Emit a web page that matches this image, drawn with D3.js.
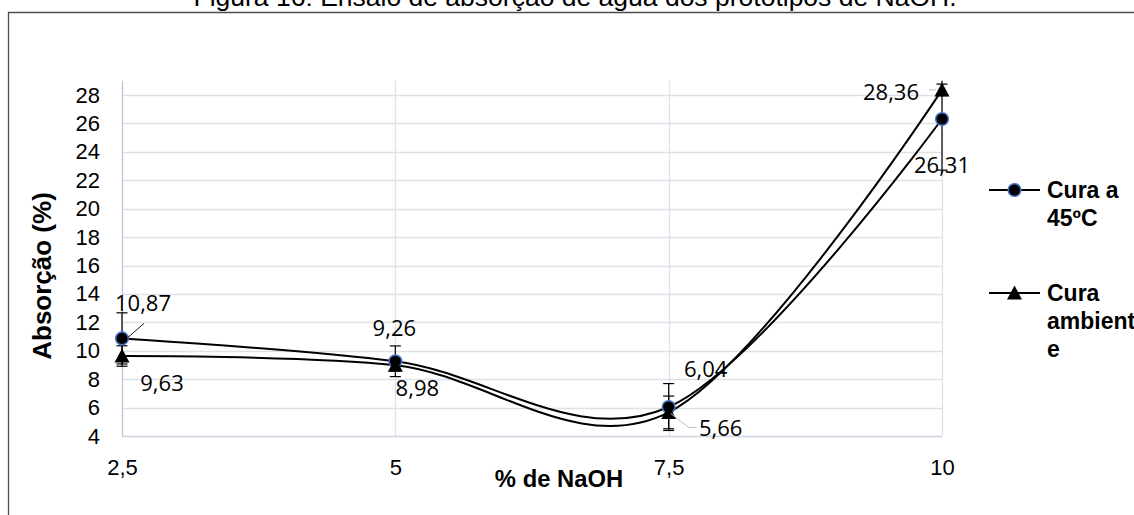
<!DOCTYPE html>
<html>
<head>
<meta charset="utf-8">
<script src="https://cdn.jsdelivr.net/npm/d3@7"></script>
<style>
  html, body { margin: 0; padding: 0; background: #fff; }
  svg { display: block; }
</style>
</head>
<body>
<svg id="chart" width="1134" height="515"></svg>
<script>
// Water absorption of NaOH prototypes, two curing conditions
const naohPercent = [2.5, 5, 7.5, 10];
const xTickLabels = ["2,5", "5", "7,5", "10"];
const yTickValues = [4, 6, 8, 10, 12, 14, 16, 18, 20, 22, 24, 26, 28];

const cura45 = [10.87, 9.26, 6.04, 26.31];
const cura45Err = [1.8, 1.08, 1.65, 3.6];
const curaAmbiente = [9.63, 8.98, 5.66, 28.36];
const curaAmbienteErr = [0.72, 0.4, 1.15, 0.4];

const legendLines45 = ["Cura a", "45ºC"];
const legendLinesAmb = ["Cura", "ambient", "e"];

const titleText = "Figura 16: Ensaio de absorção de água dos protótipos de NaOH.";
const yAxisTitle = "Absorção (%)";
const xAxisTitle = "% de NaOH";

// label placement (offset of label centre from its point)
const labelOffsets45 = [[21, -35], [-1, -33], [37, -38], [0, 46]];
const labelOffsetsAmb = [[40, 27], [22, 23], [52, 16], [-51, 2]];

const svg = d3.select("#chart");
const plot = { left: 122, right: 942, top: 80.8, bottom: 436 };

const x = d3.scaleLinear().domain([2.5, 10]).range([plot.left, plot.right]);
const y = d3.scaleLinear().domain([4, 29]).range([plot.bottom, plot.top]);

const fmt = v => d3.format(".2f")(v).replace(".", ",");

// chart frame
svg.append("path")
  .attr("d", `M8.5,${515} V12.5 H${1134}`)
  .attr("fill", "none")
  .attr("stroke", "#4d4d4d")
  .attr("stroke-width", 1.3);

// title (top is cut by the page edge)
svg.append("text")
  .attr("x", 575).attr("y", 6)
  .attr("text-anchor", "middle")
  .attr("font-family", "Liberation Sans, Arial, sans-serif")
  .attr("font-size", 26.5)
  .attr("fill", "#000")
  .text(titleText);

// gridlines
const grid = svg.append("g");
grid.selectAll("line.h").data(yTickValues).join("line")
  .attr("x1", plot.left).attr("x2", plot.right)
  .attr("y1", d => Math.round(y(d)) + 0.5).attr("y2", d => Math.round(y(d)) + 0.5)
  .attr("stroke", d => d === 4 ? "#ccd4e0" : "#dde2ea")
  .attr("stroke-width", 1.3);
grid.selectAll("line.v").data(naohPercent).join("line")
  .attr("x1", d => Math.round(x(d)) + 0.5).attr("x2", d => Math.round(x(d)) + 0.5)
  .attr("y1", plot.top).attr("y2", plot.bottom)
  .attr("stroke", (d, i) => i === 0 ? "#b9c7dc" : "#dde2ea")
  .attr("stroke-width", 1.3);

// axes labels via d3 axes
const yAxis = d3.axisLeft(y).tickValues(yTickValues).tickSize(0).tickPadding(22)
  .tickFormat(d => String(d));
const yg = svg.append("g").attr("transform", `translate(${plot.left},0)`).call(yAxis);
yg.select(".domain").remove();
yg.selectAll("text")
  .attr("font-family", "Liberation Sans, Arial, sans-serif")
  .attr("font-size", 22).attr("fill", "#000");

const xAxis = d3.axisBottom(x).tickValues(naohPercent).tickSize(0).tickPadding(23)
  .tickFormat((d, i) => xTickLabels[i]);
const xg = svg.append("g").attr("transform", `translate(0,${plot.bottom})`).call(xAxis);
xg.select(".domain").remove();
xg.selectAll("text")
  .attr("font-family", "Liberation Sans, Arial, sans-serif")
  .attr("font-size", 22).attr("fill", "#000");

// axis titles
svg.append("text")
  .attr("transform", "translate(51,276) rotate(-90)")
  .attr("text-anchor", "middle")
  .attr("font-family", "Liberation Sans, Arial, sans-serif")
  .attr("font-weight", "bold").attr("font-size", 26)
  .text(yAxisTitle);
svg.append("text")
  .attr("x", 559).attr("y", 487)
  .attr("text-anchor", "middle")
  .attr("font-family", "Liberation Sans, Arial, sans-serif")
  .attr("font-weight", "bold").attr("font-size", 23.8)
  .text(xAxisTitle);

// clip for error bars
svg.append("clipPath").attr("id", "plotClip")
  .append("rect").attr("x", 90).attr("y", plot.top)
  .attr("width", 880).attr("height", plot.bottom - plot.top + 30);

const series = [
  { values: cura45, err: cura45Err, marker: "circle", offsets: labelOffsets45 },
  { values: curaAmbiente, err: curaAmbienteErr, marker: "triangle", offsets: labelOffsetsAmb }
];

const line = d3.line()
  .x((d, i) => x(naohPercent[i]))
  .y(d => y(d))
  .curve(d3.curveCardinal.tension(0));

// smoothed lines
series.forEach(s => {
  svg.append("path")
    .attr("d", line(s.values))
    .attr("fill", "none")
    .attr("stroke", "#000")
    .attr("stroke-width", 2);
});

// error bars
const eb = svg.append("g").attr("clip-path", "url(#plotClip)")
  .attr("stroke", "#000").attr("stroke-width", 1.2);
series.forEach(s => {
  s.values.forEach((v, i) => {
    const cx = x(naohPercent[i]);
    const y1 = y(v + s.err[i]), y2 = y(v - s.err[i]);
    eb.append("line").attr("x1", cx).attr("x2", cx).attr("y1", y1).attr("y2", y2);
    eb.append("line").attr("x1", cx - 5.5).attr("x2", cx + 5.5).attr("y1", y1).attr("y2", y1);
    eb.append("line").attr("x1", cx - 5.5).attr("x2", cx + 5.5).attr("y1", y2).attr("y2", y2);
  });
});

// markers
function drawMarker(g, type, cx, cy) {
  if (type === "circle") {
    g.append("circle").attr("cx", cx).attr("cy", cy).attr("r", 6.3)
      .attr("fill", "#000").attr("stroke", "#4472c4").attr("stroke-width", 1.5);
  } else {
    g.append("path")
      .attr("d", `M${cx},${cy - 7.5} L${cx + 7.5},${cy + 6.5} L${cx - 7.5},${cy + 6.5} Z`)
      .attr("fill", "#000");
  }
}
const mk = svg.append("g");
series.forEach(s => {
  s.values.forEach((v, i) => drawMarker(mk, s.marker, x(naohPercent[i]), y(v)));
});

// leader lines for a few data labels
const leaders = svg.append("g").attr("fill", "none").attr("stroke-width", 1);
{
  const px = x(naohPercent[0]), py = y(cura45[0]);
  leaders.append("path").attr("stroke", "#1a1a1a")
    .attr("d", `M${px + 6},${py - 1} L${px + 22},${py - 15}`);
}
{
  const px = x(naohPercent[2]), py = y(curaAmbiente[2]);
  leaders.append("path").attr("stroke", "#bfbfbf")
    .attr("d", `M${px + 2},${py + 1} L${px + 20},${py + 15} L${px + 28},${py + 15}`);
}
{
  const px = x(naohPercent[3]), py = y(curaAmbiente[3]);
  leaders.append("path").attr("stroke", "#bfbfbf")
    .attr("d", `M${px - 13},${py} L${px - 6},${py}`);
}

// data labels
const lbl = svg.append("g")
  .attr("font-family", "Open Sans, Liberation Sans, sans-serif")
  .attr("font-size", 22).attr("fill", "#000")
  .attr("text-anchor", "middle");
series.forEach(s => {
  s.values.forEach((v, i) => {
    lbl.append("text")
      .attr("x", x(naohPercent[i]) + s.offsets[i][0])
      .attr("y", y(v) + s.offsets[i][1])
      .attr("dy", "0.36em")
      .text(fmt(v));
  });
});

// legend
const lg = svg.append("g")
  .attr("font-family", "Liberation Sans, Arial, sans-serif")
  .attr("font-weight", "bold").attr("font-size", 23);
[[legendLines45, "circle", 190], [legendLinesAmb, "triangle", 293]].forEach(([lines, type, ly]) => {
  lg.append("line").attr("x1", 989).attr("x2", 1040).attr("y1", ly).attr("y2", ly)
    .attr("stroke", "#000").attr("stroke-width", 2);
  drawMarker(lg, type, 1014.5, ly);
  lines.forEach((t, k) => {
    lg.append("text").attr("x", 1047).attr("y", ly + k * 28).attr("dy", "0.36em").text(t);
  });
});
</script>
</body>
</html>
